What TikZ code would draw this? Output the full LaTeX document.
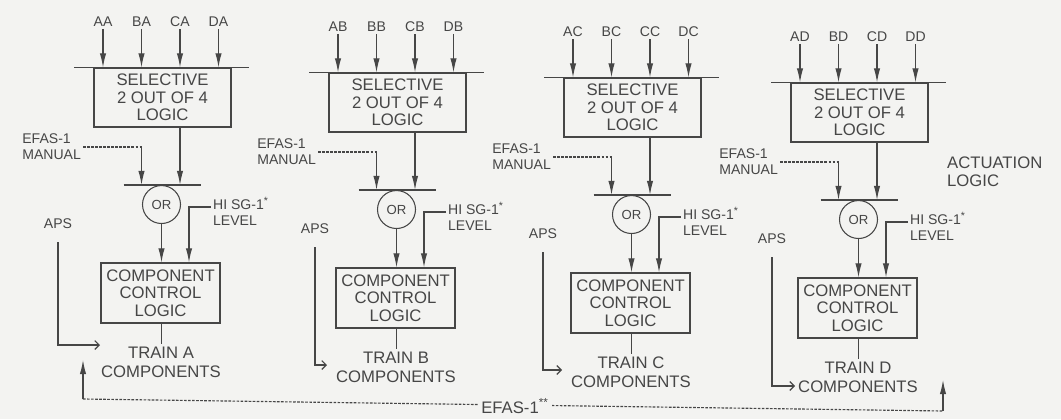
\documentclass[tikz,border=0pt]{standalone}
\usepackage{fontspec}
\setmainfont{Liberation Sans}
\usetikzlibrary{arrows.meta, calc}
\definecolor{inkgray}{RGB}{70,70,70}
\definecolor{paper}{RGB}{243,243,241}

\begin{document}
\begin{tikzpicture}[
  x=0.02cm, y=-0.02cm,
  every node/.style={font=\fontsize{9.5}{10}\selectfont, text=inkgray, inner sep=1pt},
  logicbox/.style={rectangle, draw=inkgray, line width=0.6pt, align=center,
    minimum width=2.74cm, minimum height=1.18cm},
  ctrlbox/.style={rectangle, draw=inkgray, line width=0.6pt, align=center,
    minimum width=2.38cm, minimum height=1.2cm},
  orgate/.style={circle, draw=inkgray, line width=0.6pt, minimum size=0.76cm,
    inner sep=0pt, font=\fontsize{7.5}{8}\selectfont},
  sig/.style={font=\fontsize{8}{9}\selectfont, align=left},
  wire/.style={draw=inkgray, line width=0.65pt},
  arr/.style={wire, -{Latex[length=8pt,width=3.6pt]}},
  aparr/.style={wire, -{Straight Barb[length=2.5pt,width=5pt]}},
  manline/.style={wire, dash pattern=on 1.5pt off 0.8pt}
]
  \useasboundingbox (0,0) rectangle (1061,419);
  \fill[paper] (0,0) rectangle (1061,419);

  % one column per train
  \foreach \c/\xo/\yo/\ax/\ab/\ae in {A/103/68/-45/277/-3,B/338/73/-23/292/-11,
      C/573/78/-30/292/-11,D/800/83/-28/303/-5} {
    \begin{scope}[shift={(\xo,\yo)}]
      \node[logicbox] (sel\c) at (59.5,29.5) {SELECTIVE\\2 OUT OF 4\\LOGIC};
      \draw[wire] ($(sel\c.north west)+(-19,0)$) -- ($(sel\c.north east)+(17,0)$);
      \foreach \s [count=\i from 0] in {A,B,C,D} {
        \node[sig] (in\s\c) at (38.5*\i,-46) {\s\c};
        \draw[arr] (in\s\c.south) -- (in\s\c.south |- sel\c.north);
      }
      \coordinate (bus\c) at (58.5,117);
      \draw[wire] ($(bus\c)+(-38,0)$) -- ($(bus\c)+(39,0)$);
      \node[orgate, anchor=north] (or\c) at (bus\c) {OR};
      \draw[arr] (inC\c |- sel\c.south) -- (inC\c |- bus\c);
      % manual initiation
      \node[sig, anchor=east] (manual\c) at (-20,79) {EFAS-1\\MANUAL};
      \coordinate (mk\c) at (manual\c.east -| inB\c);
      \draw[manline] (manual\c.east) -- (mk\c);
      \draw[arr] (mk\c) -- (inB\c |- bus\c);
      \node[ctrlbox] (ccl\c) at (57.5,225) {COMPONENT\\CONTROL\\LOGIC};
      \draw[arr] (or\c) -- (or\c |- ccl\c.north);
      \coordinate (hk\c) at (86,139);
      \node[sig, anchor=west] (hi\c) at (108,143) {HI SG-1\textsuperscript{*}\\LEVEL};
      \draw[arr] (hi\c.west |- hk\c) -- (hk\c) -- (hk\c |- ccl\c.north);
      \node[align=center, font=\fontsize{9.5}{11}\selectfont] (train\c) at (58,294)
        {TRAIN \c\\COMPONENTS};
      \draw[wire] (ccl\c.south -| or\c) -- (train\c.north -| or\c);
      \node[sig] (aps\c) at (\ax,156) {APS};
      \coordinate (apsend\c) at (\ae,\ab);
      \draw[aparr, shorten <=0.22cm] (aps\c.south) |- (apsend\c);
    \end{scope}
  }

  % common EFAS-1 signal
  \coordinate (efl) at (83,399);
  \coordinate (efr) at (943,411);
  \coordinate (efltip) at (83,360);
  \coordinate (efrtip) at (943,380);
  \draw[manline] (efl) -- (efr);
  \draw[arr] (efl) -- (efltip);
  \draw[arr] (efr) -- (efrtip);
  \node[fill=paper, inner sep=2pt] (efas) at (515,406) {EFAS-1\textsuperscript{**}};

  \node[align=left, anchor=west] (act) at (945,172) {ACTUATION\\LOGIC};
\end{tikzpicture}
\end{document}
